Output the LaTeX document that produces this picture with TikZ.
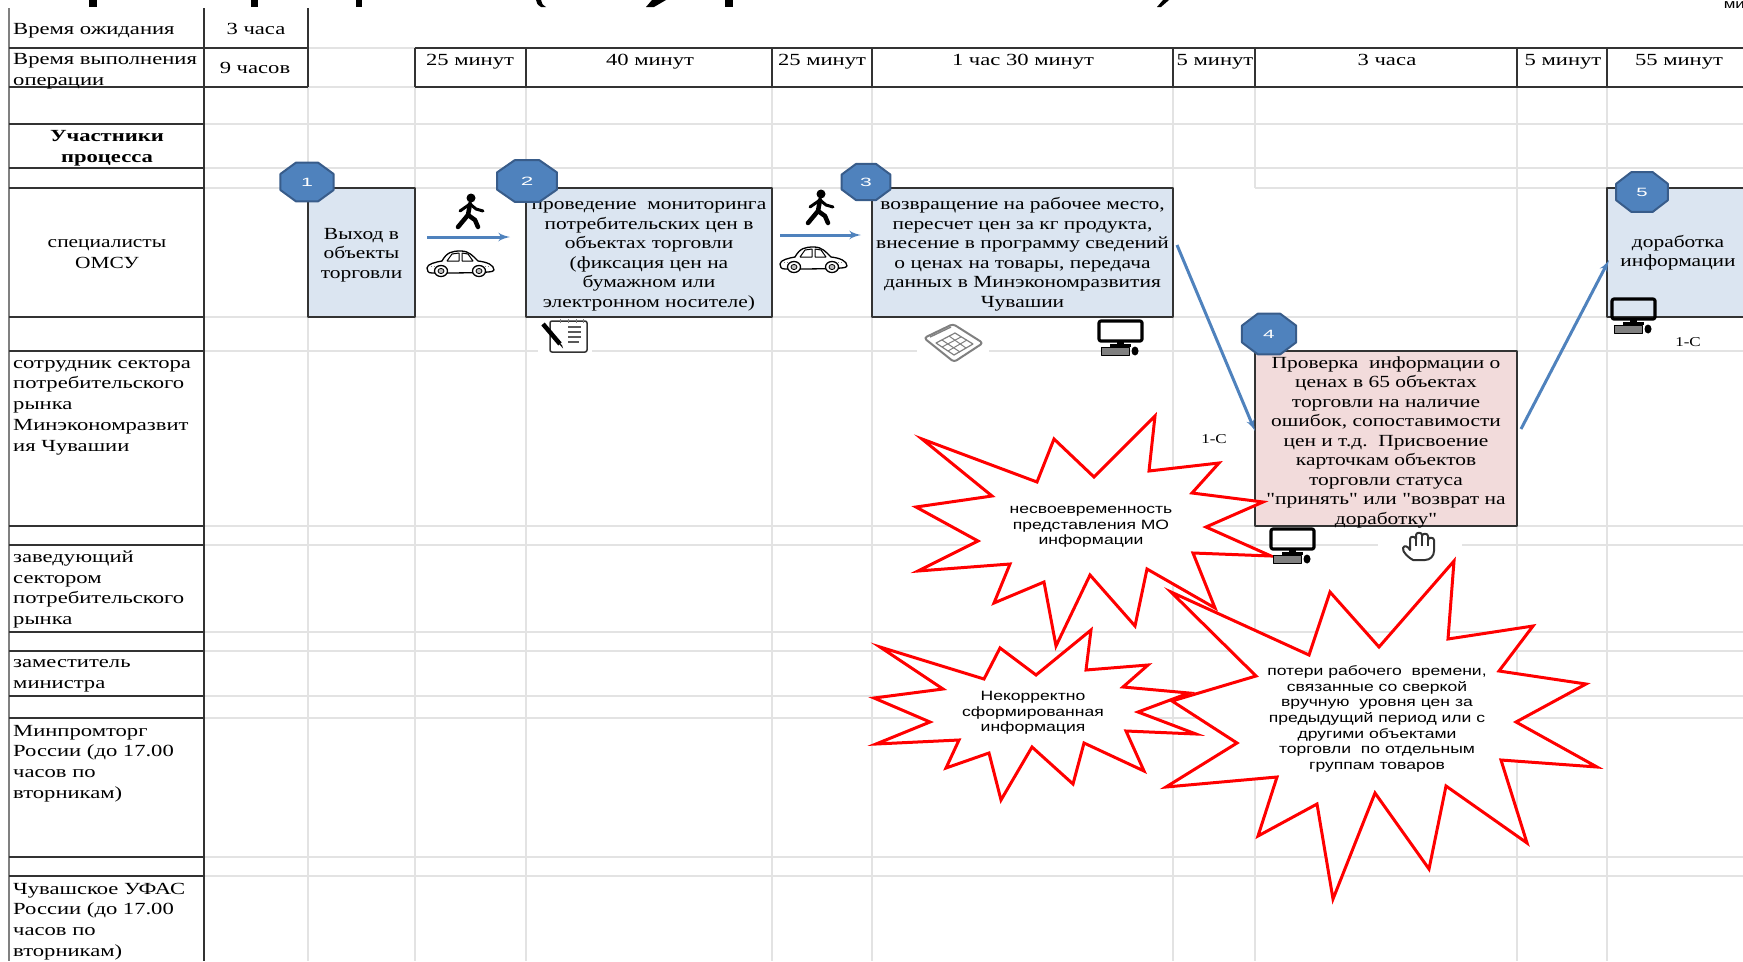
\documentclass[tikz,border=0pt]{standalone}
\usepackage{fontspec}
\usepackage{tikz}
\usetikzlibrary{arrows}
\usetikzlibrary{shapes.geometric}

\newfontfamily\cellfamily[FakeStretch=1.33]{Liberation Serif}
\newfontfamily\boxfamily[FakeStretch=1.26]{Liberation Serif}
\newfontfamily\starfamily[FakeStretch=1.3]{Liberation Sans}
\newcommand{\celltext}{\cellfamily\fontsize{17bp}{20.7bp}\selectfont}
\newcommand{\boxtext}{\boxfamily\fontsize{17bp}{19.5bp}\selectfont}
\newcommand{\startext}{\starfamily\fontsize{13.5bp}{15.7bp}\selectfont}
\newcommand{\lowstrut}{\rule{0pt}{16bp}}

\definecolor{gridcol}{rgb}{0.89,0.89,0.89}
\definecolor{rulecol}{rgb}{0.2,0.2,0.2}
\definecolor{boxblue}{rgb}{0.86,0.9,0.945}
\definecolor{boxpink}{rgb}{0.95,0.86,0.86}
\definecolor{markblue}{rgb}{0.31,0.51,0.74}
\definecolor{markedge}{rgb}{0.22,0.36,0.54}

\tikzset{
    walkerpic/.pic={
        \fill (1,-14) ellipse (4.5 and 4.5);
        \draw [line width=4.5bp,line cap=round,line join=round] (0,-8) -- (-2,3) -- (-12,15);
        \draw [line width=4.5bp,line cap=round,line join=round] (-2,3) -- (5,8) -- (8,15);
        \draw [line width=3bp,line cap=round,line join=round] (0,-8) -- (-10,-1);
        \draw [line width=3bp,line cap=round,line join=round] (0,-8) -- (6,-3) -- (13,-1);
    },
    carpic/.pic={
        \draw [fill=white,line width=1.3bp] (-33,4) .. controls (-33,0) and (-24,-2) .. (-18,-3)
            .. controls (-13,-12) and (-8,-13) .. (1,-13) .. controls (9,-13) and (13,-8) .. (18,-3)
            .. controls (27,-2) and (34,1) .. (34,6) .. controls (34,8) and (30,9) .. (-28,9)
            .. controls (-32,9) and (-33,7) .. (-33,4) -- cycle;
        \draw [line width=1bp] (-13,-3) -- (-8,-10) -- (-1,-11) -- (-1,-3) -- cycle;
        \draw [line width=1bp] (2,-3) -- (2,-11) -- (8,-10) -- (13,-3) -- cycle;
        \draw [gray,line width=1bp,dotted] (-29,2) -- (-22,2);
        \draw [gray,line width=1bp,dotted] (22,2) -- (29,2);
        \filldraw [fill=white,line width=1.3bp] (-19,7) ellipse (6.5 and 5.5);
        \filldraw [fill=gray!50,line width=.8bp] (-19,7) ellipse (3 and 2.6);
        \filldraw [fill=white,line width=1.3bp] (19,7) ellipse (6.5 and 5.5);
        \filldraw [fill=gray!50,line width=.8bp] (19,7) ellipse (3 and 2.6);
    },
    notepadpic/.pic={
        \fill [white] (-27,-16.5) rectangle (27,19);
        \draw [rulecol,line width=1.5bp,rounded corners=2bp] (-15,-14) rectangle (22,17);
        \draw [gray,line width=1bp] (-5,-16) -- (-5,-12) (3,-16) -- (3,-12) (11,-16) -- (11,-12) (18,-16) -- (18,-12);
        \draw [gray!70!black,line width=1.3bp] (3,-8) -- (16,-8) (3,-3) -- (16,-3) (3,2) -- (16,2) (3,7) -- (14,7);
        \draw [black,line width=4.5bp] (-22,-11) -- (-5,9);
        \fill [black] (-7.5,7) -- (-3,10) -- (-2,13.5) -- cycle;
    },
    calcpic/.pic={
        \fill [white] (-36,-4) rectangle (36,13);
        \draw [gray,fill=white,line width=2bp,rounded corners=3bp] (-29,-4) -- (0,-18) -- (30,1) -- (1,20) -- cycle;
        \draw [gray,line width=1.4bp] (-23,-5) -- (-2,-15);
        \draw [gray,line width=1.2bp] (-17,1) -- (2,-9) -- (20,2) -- (1,13) -- cycle;
        \draw [gray,line width=1bp] (-11,5) -- (8,-5) (-5,9) -- (14,-2);
        \draw [gray,line width=1bp] (-11,-2) -- (7,10) (-4,-6) -- (13,6);
    },
    monitorpic/.pic={
        \draw [black,line width=3.2bp,rounded corners=2bp] (-21,-16) rectangle (22,4);
        \fill [black] (-3,4) rectangle (4,7);
        \fill [black] (-10,7) rectangle (11,9.5);
        \filldraw [fill=gray,draw=black,line width=1bp] (-19,10.5) rectangle (9,18);
        \fill [black] (15,14) ellipse (3.5 and 4.5);
    },
    handpic/.pic={
        \fill [white] (-41,-5) rectangle (43,3);
        \draw [rulecol,line width=2bp,line join=round] (-6,14) .. controls (-10,12) and (-17,6) .. (-16,2)
            .. controls (-15,-1) and (-11,0) .. (-9,4) -- (-9,-7)
            .. controls (-9,-10) and (-4,-10) .. (-3,-7) -- (-3,-11)
            .. controls (-3,-14) and (3,-14) .. (3,-11) -- (3,-10)
            .. controls (3,-13) and (9,-13) .. (9,-10) -- (9,-6)
            .. controls (9,-9) and (15,-9) .. (15,-6) -- (15,5)
            .. controls (15,10) and (11,14) .. (6,14) -- cycle;
        \draw [rulecol,line width=1.5bp] (-3,-7) -- (-3,0) (3,-10) -- (3,0) (9,-6) -- (9,0);
    }
}

\begin{document}
\begin{tikzpicture}[>=latex',line join=bevel,x=1bp,y=-1bp,
    gridline/.style={gridcol,line width=2bp},
    ruleline/.style={rulecol,line width=2bp},
    sideline/.style={gray,line width=1.5bp},
    timecell/.style={font=\celltext,inner sep=0pt,anchor=base},
    rolecell/.style={font=\celltext,inner sep=0pt,align=left,anchor=west},
    headcell/.style={font=\boxtext,inner sep=0pt,align=center},
    stepbox/.style={draw=rulecol,line width=2bp,fill=boxblue,align=center,inner sep=0pt,font=\boxtext},
    checkbox/.style={stepbox,fill=boxpink},
    stepmark/.style={regular polygon,regular polygon sides=8,fill=markblue,draw=markedge,line width=2bp,
        text=white,inner sep=0pt,font=\starfamily\fontsize{12bp}{14bp}\selectfont,transform shape},
    flowline/.style={->,markblue,line width=3bp},
    starline/.style={red,fill=white,line width=3bp,line join=miter},
    startag/.style={align=center,inner sep=0pt,font=\startext},
    systag/.style={inner sep=0pt,font=\boxfamily\fontsize{13.5bp}{15bp}\selectfont}]
    \useasboundingbox (0,0) rectangle (1743,961);
    \clip (0,0) rectangle (1743,961);
    % Title remains
    \fill (89,0) rectangle (97,7);
    \fill (251,0) rectangle (258,7);
    \fill (356,0) rectangle (362,7);
    \fill (536,0) -- (541,0) .. controls (541,3) and (543,5) .. (546,7) -- (541,7) .. controls (538,5) and (536,3) .. (536,0) -- cycle;
    \fill (646,7) -- (654,7) -- (666,0) -- (652,0) -- cycle;
    \fill (725,0) rectangle (733,7);
    \fill (1157,7) -- (1161,7) -- (1169,0) -- (1163,0) -- cycle;
    \node (titlerest) [inner sep=0pt,anchor=south east,font=\starfamily\fontsize{13bp}{13bp}\selectfont] at (1745,9) {ми};
    % Grid
    \draw [gridline] (204,124) -- (1743,124) (204,168) -- (1743,168);
    \draw [gridline] (204,188) -- (1173,188) (1255,188) -- (1607,188);
    \draw [gridline] (204,317) -- (1743,317) (204,351) -- (1743,351);
    \draw [gridline] (204,526) -- (1743,526) (204,545) -- (1743,545);
    \draw [gridline] (204,632) -- (1743,632) (204,651) -- (1743,651);
    \draw [gridline] (204,696) -- (1743,696) (204,718) -- (1743,718);
    \draw [gridline] (204,857) -- (1743,857) (204,876) -- (1743,876);
    \draw [gridline] (308,48) -- (415,48) (308,87) -- (415,87);
    \draw [gridline] (308,87) -- (308,961) (415,87) -- (415,961);
    \draw [gridline] (526,87) -- (526,961) (772,87) -- (772,961);
    \draw [gridline] (872,87) -- (872,961) (1173,87) -- (1173,961);
    \draw [gridline] (1255,87) -- (1255,188) (1255,526) -- (1255,961);
    \draw [gridline] (1517,87) -- (1517,961) (1607,87) -- (1607,961);
    % Table rules
    \draw [sideline] (9,8) -- (9,961);
    \draw [ruleline] (204,8) -- (204,961) (308,8) -- (308,87);
    \draw [ruleline] (9,48) -- (308,48) (9,87) -- (308,87);
    \draw [ruleline] (415,48) -- (1743,48) (415,87) -- (1743,87);
    \draw [ruleline] (415,48) -- (415,87) (526,48) -- (526,87);
    \draw [ruleline] (772,48) -- (772,87) (872,48) -- (872,87);
    \draw [ruleline] (1173,48) -- (1173,87) (1255,48) -- (1255,87);
    \draw [ruleline] (1517,48) -- (1517,87) (1607,48) -- (1607,87);
    \draw [ruleline] (9,124) -- (204,124) (9,168) -- (204,168);
    \draw [ruleline] (9,188) -- (204,188) (9,317) -- (204,317);
    \draw [ruleline] (9,351) -- (204,351) (9,526) -- (204,526);
    \draw [ruleline] (9,545) -- (204,545) (9,632) -- (204,632);
    \draw [ruleline] (9,651) -- (204,651) (9,696) -- (204,696);
    \draw [ruleline] (9,718) -- (204,718) (9,857) -- (204,857) (9,876) -- (204,876);
    % Header cells
    \node (waitlabel) [rolecell] at (13,31) {Время ожидания};
    \node (waittime) [timecell] at (256,34) {3 часа};
    \node (worklabel) [rolecell] at (13,71) {Время выполнения\\операции};
    \node (worktime) [timecell] at (255,73) {9 часов};
    \node (time1) [timecell] at (470,65) {25 минут};
    \node (time2) [timecell] at (650,65) {40 минут};
    \node (time3) [timecell] at (822,65) {25 минут};
    \node (time4) [timecell] at (1023,65) {1 час 30 минут};
    \node (time5) [timecell] at (1215,65) {5 минут};
    \node (time6) [timecell] at (1387,65) {3 часа};
    \node (time7) [timecell] at (1563,65) {5 минут};
    \node (time8) [timecell] at (1679,65) {55 минут};
    % Role cells
    \node (rolehead) [headcell,font=\celltext\bfseries] at (107,148) {Участники\\процесса};
    \node (role1) [headcell] at (107,254) {специалисты\\[1.5bp]ОМСУ};
    \node (role2) [rolecell] at (13,407.5) {сотрудник сектора\\потребительского\\рынка\\Минэкономразвит\\ия Чувашии};
    \node (role3) [rolecell] at (13,589.5) {заведующий\\сектором\\потребительского\\рынка};
    \node (role4) [rolecell] at (13,676) {заместитель\\министра};
    \node (role5) [rolecell] at (13,763.5) {Минпромторг\\России (до 17.00\\часов по\\вторникам)};
    \node (role6) [rolecell] at (13,921.5) {Чувашское УФАС\\России (до 17.00\\часов по\\вторникам)};
    % Node: step boxes
    \node (box1) [stepbox,minimum width=107bp,minimum height=129bp] at (361.5,252.5) {\lowstrut Выход в\\объекты\\торговли};
    \node (box2) [stepbox,minimum width=246bp,minimum height=129bp] at (649,252.5) {\lowstrut проведение\ \ мониторинга\\потребительских цен в\\объектах торговли\\(фиксация цен на\\бумажном или\\электронном носителе)};
    \node (box3) [stepbox,minimum width=301bp,minimum height=129bp] at (1022.5,252.5) {\lowstrut возвращение на рабочее место,\\пересчет цен за кг продукта,\\внесение в программу сведений\\о ценах на товары, передача\\данных в Минэкономразвития\\Чувашии};
    \node (box4) [checkbox,minimum width=262bp,minimum height=175bp] at (1386,438.5) {\rule{0pt}{15bp}Проверка\ \ информации о\\ценах в 65 объектах\\торговли на наличие\\ошибок, сопоставимости\\цен и т.д.\ \ Присвоение\\карточкам объектов\\торговли статуса\\"принять" или "возврат на\\\smash{доработку"}};
    \node (box5) [stepbox,minimum width=142bp,minimum height=129bp] at (1678,252.5) {доработка\\информации};
    % Node: star 1
    \begin{scope}
        \draw [starline] (922,439) -- (1037,482) -- (1054,439) -- (1094,477) -- (1155,416) -- (1149,471)
            -- (1219,463) -- (1192,493) -- (1263,502) -- (1206,527) -- (1271,556) -- (1193,553)
            -- (1215,608) -- (1147,569) -- (1135,626) -- (1090,575) -- (1056,646) -- (1044,582)
            -- (994,603) -- (1010,564) -- (918,571) -- (978,541) -- (916,507) -- (992,496) -- cycle;
        \node (startext1) [startag] at (1091,527) {несвоевременность\\представления МО\\информации};
    \end{scope}
    % Node: star 2
    \begin{scope}
        \draw [starline] (1171,592) -- (1309,655) -- (1330,592) -- (1379,647) -- (1454,561) -- (1448,639)
            -- (1533,626) -- (1499,671) -- (1586,684) -- (1516,722) -- (1597,767) -- (1501,760)
            -- (1527,843) -- (1446,786) -- (1429,869) -- (1375,793) -- (1333,899) -- (1317,804)
            -- (1258,836) -- (1277,777) -- (1166,787) -- (1237,743) -- (1172,701) -- (1256,676) -- cycle;
        \node (startext2) [startag] at (1377,719) {потери рабочего\ \ времени,\\связанные со сверкой\\вручную\ \ уровня цен за\\предыдущий период или с\\другими объектами\\торговли\ \ по отдельным\\группам товаров};
    \end{scope}
    % Node: star 3
    \begin{scope}
        \draw [starline] (880,647) -- (984,679) -- (1000,648) -- (1036,675) -- (1091,630) -- (1086,670)
            -- (1148,665) -- (1123,687) -- (1189,693) -- (1138,712) -- (1196,734) -- (1126,731)
            -- (1144,771) -- (1084,743) -- (1073,784) -- (1032,747) -- (1001,800) -- (989,753)
            -- (946,768) -- (959,740) -- (876,744) -- (930,722) -- (874,698) -- (943,689) -- cycle;
        \node (startext3) [startag] at (1033,713) {Некорректно\\сформированная\\информация};
    \end{scope}
    % Node: step marks
    \node (mark1) [stepmark,minimum size=42bp,xscale=1.37] at (307,182) {1};
    \node (mark2) [stepmark,minimum size=45bp,xscale=1.44] at (527,181) {2};
    \node (mark3) [stepmark,minimum size=39bp,xscale=1.35] at (866,182) {3};
    \node (mark4) [stepmark,minimum size=44bp,xscale=1.33] at (1269,334) {4};
    \node (mark5) [stepmark,minimum size=43bp,xscale=1.3] at (1642,192) {5};
    % Edge: box1 -> box2
    \draw [flowline] ([xshift=11bp,yshift=15.5bp]box1.east) -- ([xshift=-15bp,yshift=15.5bp]box2.west);
    % Edge: box2 -> box3
    \draw [flowline] ([xshift=7bp,yshift=17.5bp]box2.east) -- ([xshift=-10bp,yshift=17.5bp]box3.west);
    % Edge: box3 -> box4
    \draw [flowline] ([xshift=3bp,yshift=7.5bp]box3.east) -- ([xshift=1bp,yshift=7.5bp]box4.west);
    % Edge: box4 -> box5
    \draw [flowline] ([xshift=3bp,yshift=9.5bp]box4.east) -- ([xshift=3bp,yshift=-7.5bp]box5.west);
    % Node: icons
    \pic at (470,212) {walkerpic};
    \pic at (820,208) {walkerpic};
    \pic at (460,264) {carpic};
    \pic at (813,260) {carpic};
    \pic at (565,335) {notepadpic};
    \pic at (953,342) {calcpic};
    \pic at (1120,337) {monitorpic};
    \pic at (1633,315) {monitorpic};
    \pic at (1292,545) {monitorpic};
    \pic at (1419,546) {handpic};
    % Node: system tags
    \node (sys1) [systag] at (1214,439) {1-С};
    \node (sys2) [systag] at (1688,342) {1-С};
\end{tikzpicture}
\end{document}
